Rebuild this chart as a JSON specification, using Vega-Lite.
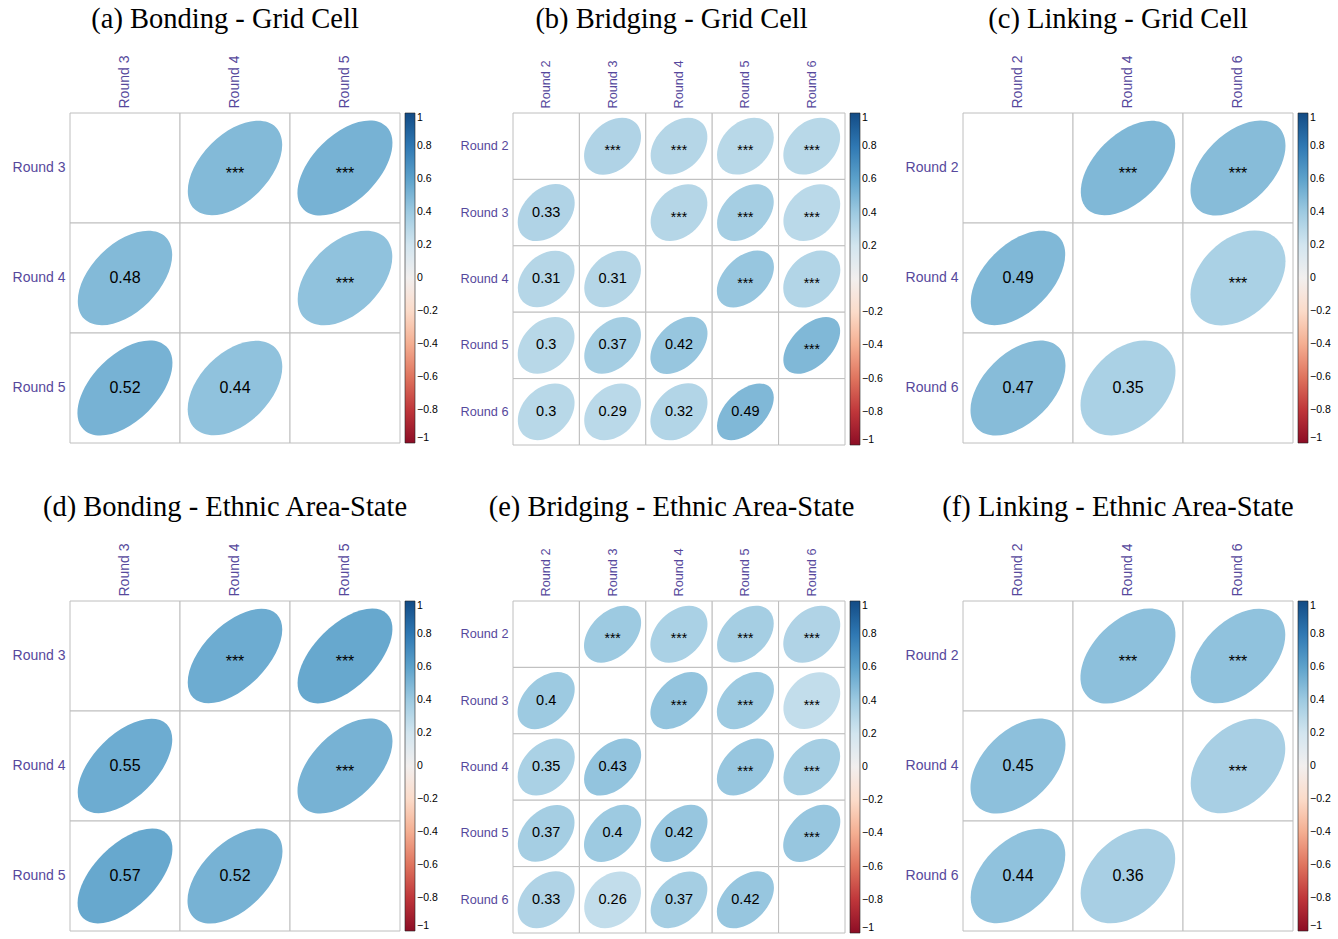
{
  "$schema": "https://vega.github.io/schema/vega-lite/v6.json",
  "background": "white",
  "padding": {"left": 12, "top": 4, "right": 0, "bottom": 0},
  "config": {
    "view": {"stroke": null},
    "font": "Liberation Sans",
    "title": {"font": "Liberation Serif", "fontSize": 28.5, "fontWeight": "normal", "color": "#000000", "anchor": "middle", "frame": "bounds"},
    "axis": {"domain": false, "ticks": false, "grid": false, "labelFont": "Liberation Sans", "labelColor": "#56489c", "labelPadding": 5, "title": null},
    "legend": {"gradientThickness": 10, "labelFont": "Liberation Sans", "labelFontSize": 10.5, "labelColor": "#000000", "labelOffset": 5, "offset": 5, "padding": 0, "gradientStrokeColor": "#222222", "gradientStrokeWidth": 0.6, "direction": "vertical", "orient": "right", "labelOverlap": false}
  },
  "spacing": 46,
  "resolve": {"scale": {"shape": "independent", "color": "independent"}, "legend": {"color": "independent", "shape": "independent"}},
  "vconcat": [
    {
      "spacing": 22,
      "resolve": {"scale": {"shape": "independent", "color": "independent"}, "legend": {"color": "independent", "shape": "independent"}},
      "hconcat": [
        {
          "title": {"text": "(a) Bonding - Grid Cell", "offset": 22},
          "width": 330, "height": 330,
          "data": {"values": [
            {"row": "Round 3", "col": "Round 3"},
            {"row": "Round 3", "col": "Round 4", "r": 0.48, "sig": "***"},
            {"row": "Round 3", "col": "Round 5", "r": 0.52, "sig": "***"},
            {"row": "Round 4", "col": "Round 3", "r": 0.48},
            {"row": "Round 4", "col": "Round 4"},
            {"row": "Round 4", "col": "Round 5", "r": 0.44, "sig": "***"},
            {"row": "Round 5", "col": "Round 3", "r": 0.52},
            {"row": "Round 5", "col": "Round 4", "r": 0.44},
            {"row": "Round 5", "col": "Round 5"}
          ]},
          "encoding": {
            "x": {"field": "col", "type": "nominal", "title": null, "scale": {"type": "band", "paddingInner": 0, "paddingOuter": 0}, "axis": {"orient": "top", "labelAngle": -90, "labelFontSize": 14}},
            "y": {"field": "row", "type": "nominal", "title": null, "scale": {"type": "band", "paddingInner": 0, "paddingOuter": 0}, "axis": {"labelFontSize": 14}}
          },
          "layer": [
            {"mark": {"type": "rect", "fill": "white", "stroke": "#bebebe", "strokeWidth": 1}},
            {
              "transform": [{"filter": "isValid(datum.r)"}],
              "mark": {"type": "point", "filled": true, "opacity": 1, "strokeWidth": 0, "size": 9025},
              "encoding": {
                "shape": {"field": "r", "type": "nominal", "legend": null, "scale": {
                  "domain": [0.44, 0.48, 0.52],
                  "range": [
                    "M -0.8485 0.8485 A 1.2 0.7483 -45 0 1 0.8485 -0.8485 A 1.2 0.7483 -45 0 1 -0.8485 0.8485 Z",
                    "M -0.8602 0.8602 A 1.2166 0.7211 -45 0 1 0.8602 -0.8602 A 1.2166 0.7211 -45 0 1 -0.8602 0.8602 Z",
                    "M -0.8718 0.8718 A 1.2329 0.6928 -45 0 1 0.8718 -0.8718 A 1.2329 0.6928 -45 0 1 -0.8718 0.8718 Z"
                  ]}},
                "color": {"field": "r", "type": "quantitative", "scale": {"domain": [-1, 1], "scheme": "redblue"}, "legend": {"type": "gradient", "title": null, "format": ".1~f", "gradientLength": 330, "values": [-1, -0.8, -0.6, -0.4, -0.2, 0, 0.2, 0.4, 0.6, 0.8, 1]}}
              }
            },
            {
              "transform": [{"filter": "isValid(datum.r) && !datum.sig"}],
              "mark": {"type": "text", "fontSize": 16, "color": "#000000"},
              "encoding": {"text": {"field": "r", "type": "quantitative", "format": ".2~f"}}
            },
            {
              "transform": [{"filter": "datum.sig"}],
              "mark": {"type": "text", "fontSize": 16, "dy": 6, "color": "#000000"},
              "encoding": {"text": {"field": "sig"}}
            }
          ]
        },
        {
          "title": {"text": "(b) Bridging - Grid Cell", "offset": 27},
          "width": 332, "height": 332,
          "data": {"values": [
            {"row": "Round 2", "col": "Round 2"},
            {"row": "Round 2", "col": "Round 3", "r": 0.33, "sig": "***"},
            {"row": "Round 2", "col": "Round 4", "r": 0.31, "sig": "***"},
            {"row": "Round 2", "col": "Round 5", "r": 0.3, "sig": "***"},
            {"row": "Round 2", "col": "Round 6", "r": 0.3, "sig": "***"},
            {"row": "Round 3", "col": "Round 2", "r": 0.33},
            {"row": "Round 3", "col": "Round 3"},
            {"row": "Round 3", "col": "Round 4", "r": 0.31, "sig": "***"},
            {"row": "Round 3", "col": "Round 5", "r": 0.37, "sig": "***"},
            {"row": "Round 3", "col": "Round 6", "r": 0.29, "sig": "***"},
            {"row": "Round 4", "col": "Round 2", "r": 0.31},
            {"row": "Round 4", "col": "Round 3", "r": 0.31},
            {"row": "Round 4", "col": "Round 4"},
            {"row": "Round 4", "col": "Round 5", "r": 0.42, "sig": "***"},
            {"row": "Round 4", "col": "Round 6", "r": 0.32, "sig": "***"},
            {"row": "Round 5", "col": "Round 2", "r": 0.3},
            {"row": "Round 5", "col": "Round 3", "r": 0.37},
            {"row": "Round 5", "col": "Round 4", "r": 0.42},
            {"row": "Round 5", "col": "Round 5"},
            {"row": "Round 5", "col": "Round 6", "r": 0.49, "sig": "***"},
            {"row": "Round 6", "col": "Round 2", "r": 0.3},
            {"row": "Round 6", "col": "Round 3", "r": 0.29},
            {"row": "Round 6", "col": "Round 4", "r": 0.32},
            {"row": "Round 6", "col": "Round 5", "r": 0.49},
            {"row": "Round 6", "col": "Round 6"}
          ]},
          "encoding": {
            "x": {"field": "col", "type": "nominal", "title": null, "scale": {"type": "band", "paddingInner": 0, "paddingOuter": 0}, "axis": {"orient": "top", "labelAngle": -90, "labelFontSize": 12.7}},
            "y": {"field": "row", "type": "nominal", "title": null, "scale": {"type": "band", "paddingInner": 0, "paddingOuter": 0}, "axis": {"labelFontSize": 12.7}}
          },
          "layer": [
            {"mark": {"type": "rect", "fill": "white", "stroke": "#bebebe", "strokeWidth": 1}},
            {
              "transform": [{"filter": "isValid(datum.r)"}],
              "mark": {"type": "point", "filled": true, "opacity": 1, "strokeWidth": 0, "size": 3260},
              "encoding": {
                "shape": {"field": "r", "type": "nominal", "legend": null, "scale": {
                  "domain": [0.29, 0.3, 0.31, 0.32, 0.33, 0.37, 0.42, 0.49],
                  "range": [
                    "M -0.8031 0.8031 A 1.1358 0.8426 -45 0 1 0.8031 -0.8031 A 1.1358 0.8426 -45 0 1 -0.8031 0.8031 Z",
                    "M -0.8062 0.8062 A 1.1402 0.8367 -45 0 1 0.8062 -0.8062 A 1.1402 0.8367 -45 0 1 -0.8062 0.8062 Z",
                    "M -0.8093 0.8093 A 1.1446 0.8307 -45 0 1 0.8093 -0.8093 A 1.1446 0.8307 -45 0 1 -0.8093 0.8093 Z",
                    "M -0.8124 0.8124 A 1.1489 0.8246 -45 0 1 0.8124 -0.8124 A 1.1489 0.8246 -45 0 1 -0.8124 0.8124 Z",
                    "M -0.8155 0.8155 A 1.1533 0.8185 -45 0 1 0.8155 -0.8155 A 1.1533 0.8185 -45 0 1 -0.8155 0.8155 Z",
                    "M -0.8276 0.8276 A 1.1705 0.7937 -45 0 1 0.8276 -0.8276 A 1.1705 0.7937 -45 0 1 -0.8276 0.8276 Z",
                    "M -0.8426 0.8426 A 1.1916 0.7616 -45 0 1 0.8426 -0.8426 A 1.1916 0.7616 -45 0 1 -0.8426 0.8426 Z",
                    "M -0.8631 0.8631 A 1.2207 0.7141 -45 0 1 0.8631 -0.8631 A 1.2207 0.7141 -45 0 1 -0.8631 0.8631 Z"
                  ]}},
                "color": {"field": "r", "type": "quantitative", "scale": {"domain": [-1, 1], "scheme": "redblue"}, "legend": {"type": "gradient", "title": null, "format": ".1~f", "gradientLength": 332, "values": [-1, -0.8, -0.6, -0.4, -0.2, 0, 0.2, 0.4, 0.6, 0.8, 1]}}
              }
            },
            {
              "transform": [{"filter": "isValid(datum.r) && !datum.sig"}],
              "mark": {"type": "text", "fontSize": 14.5, "color": "#000000"},
              "encoding": {"text": {"field": "r", "type": "quantitative", "format": ".2~f"}}
            },
            {
              "transform": [{"filter": "datum.sig"}],
              "mark": {"type": "text", "fontSize": 14, "dy": 5, "color": "#000000"},
              "encoding": {"text": {"field": "sig"}}
            }
          ]
        },
        {
          "title": {"text": "(c) Linking - Grid Cell", "offset": 22},
          "width": 330, "height": 330,
          "data": {"values": [
            {"row": "Round 2", "col": "Round 2"},
            {"row": "Round 2", "col": "Round 4", "r": 0.49, "sig": "***"},
            {"row": "Round 2", "col": "Round 6", "r": 0.47, "sig": "***"},
            {"row": "Round 4", "col": "Round 2", "r": 0.49},
            {"row": "Round 4", "col": "Round 4"},
            {"row": "Round 4", "col": "Round 6", "r": 0.35, "sig": "***"},
            {"row": "Round 6", "col": "Round 2", "r": 0.47},
            {"row": "Round 6", "col": "Round 4", "r": 0.35},
            {"row": "Round 6", "col": "Round 6"}
          ]},
          "encoding": {
            "x": {"field": "col", "type": "nominal", "title": null, "scale": {"type": "band", "paddingInner": 0, "paddingOuter": 0}, "axis": {"orient": "top", "labelAngle": -90, "labelFontSize": 14}},
            "y": {"field": "row", "type": "nominal", "title": null, "scale": {"type": "band", "paddingInner": 0, "paddingOuter": 0}, "axis": {"labelFontSize": 14}}
          },
          "layer": [
            {"mark": {"type": "rect", "fill": "white", "stroke": "#bebebe", "strokeWidth": 1}},
            {
              "transform": [{"filter": "isValid(datum.r)"}],
              "mark": {"type": "point", "filled": true, "opacity": 1, "strokeWidth": 0, "size": 9025},
              "encoding": {
                "shape": {"field": "r", "type": "nominal", "legend": null, "scale": {
                  "domain": [0.35, 0.47, 0.49],
                  "range": [
                    "M -0.8216 0.8216 A 1.1619 0.8062 -45 0 1 0.8216 -0.8216 A 1.1619 0.8062 -45 0 1 -0.8216 0.8216 Z",
                    "M -0.8573 0.8573 A 1.2124 0.728 -45 0 1 0.8573 -0.8573 A 1.2124 0.728 -45 0 1 -0.8573 0.8573 Z",
                    "M -0.8631 0.8631 A 1.2207 0.7141 -45 0 1 0.8631 -0.8631 A 1.2207 0.7141 -45 0 1 -0.8631 0.8631 Z"
                  ]}},
                "color": {"field": "r", "type": "quantitative", "scale": {"domain": [-1, 1], "scheme": "redblue"}, "legend": {"type": "gradient", "title": null, "format": ".1~f", "gradientLength": 330, "values": [-1, -0.8, -0.6, -0.4, -0.2, 0, 0.2, 0.4, 0.6, 0.8, 1]}}
              }
            },
            {
              "transform": [{"filter": "isValid(datum.r) && !datum.sig"}],
              "mark": {"type": "text", "fontSize": 16, "color": "#000000"},
              "encoding": {"text": {"field": "r", "type": "quantitative", "format": ".2~f"}}
            },
            {
              "transform": [{"filter": "datum.sig"}],
              "mark": {"type": "text", "fontSize": 16, "dy": 6, "color": "#000000"},
              "encoding": {"text": {"field": "sig"}}
            }
          ]
        }
      ]
    },
    {
      "spacing": 22,
      "resolve": {"scale": {"shape": "independent", "color": "independent"}, "legend": {"color": "independent", "shape": "independent"}},
      "hconcat": [
        {
          "title": {"text": "(d) Bonding - Ethnic Area-State", "offset": 22},
          "width": 330, "height": 330,
          "data": {"values": [
            {"row": "Round 3", "col": "Round 3"},
            {"row": "Round 3", "col": "Round 4", "r": 0.55, "sig": "***"},
            {"row": "Round 3", "col": "Round 5", "r": 0.57, "sig": "***"},
            {"row": "Round 4", "col": "Round 3", "r": 0.55},
            {"row": "Round 4", "col": "Round 4"},
            {"row": "Round 4", "col": "Round 5", "r": 0.52, "sig": "***"},
            {"row": "Round 5", "col": "Round 3", "r": 0.57},
            {"row": "Round 5", "col": "Round 4", "r": 0.52},
            {"row": "Round 5", "col": "Round 5"}
          ]},
          "encoding": {
            "x": {"field": "col", "type": "nominal", "title": null, "scale": {"type": "band", "paddingInner": 0, "paddingOuter": 0}, "axis": {"orient": "top", "labelAngle": -90, "labelFontSize": 14}},
            "y": {"field": "row", "type": "nominal", "title": null, "scale": {"type": "band", "paddingInner": 0, "paddingOuter": 0}, "axis": {"labelFontSize": 14}}
          },
          "layer": [
            {"mark": {"type": "rect", "fill": "white", "stroke": "#bebebe", "strokeWidth": 1}},
            {
              "transform": [{"filter": "isValid(datum.r)"}],
              "mark": {"type": "point", "filled": true, "opacity": 1, "strokeWidth": 0, "size": 9025},
              "encoding": {
                "shape": {"field": "r", "type": "nominal", "legend": null, "scale": {
                  "domain": [0.52, 0.55, 0.57],
                  "range": [
                    "M -0.8718 0.8718 A 1.2329 0.6928 -45 0 1 0.8718 -0.8718 A 1.2329 0.6928 -45 0 1 -0.8718 0.8718 Z",
                    "M -0.8803 0.8803 A 1.245 0.6708 -45 0 1 0.8803 -0.8803 A 1.245 0.6708 -45 0 1 -0.8803 0.8803 Z",
                    "M -0.886 0.886 A 1.253 0.6557 -45 0 1 0.886 -0.886 A 1.253 0.6557 -45 0 1 -0.886 0.886 Z"
                  ]}},
                "color": {"field": "r", "type": "quantitative", "scale": {"domain": [-1, 1], "scheme": "redblue"}, "legend": {"type": "gradient", "title": null, "format": ".1~f", "gradientLength": 330, "values": [-1, -0.8, -0.6, -0.4, -0.2, 0, 0.2, 0.4, 0.6, 0.8, 1]}}
              }
            },
            {
              "transform": [{"filter": "isValid(datum.r) && !datum.sig"}],
              "mark": {"type": "text", "fontSize": 16, "color": "#000000"},
              "encoding": {"text": {"field": "r", "type": "quantitative", "format": ".2~f"}}
            },
            {
              "transform": [{"filter": "datum.sig"}],
              "mark": {"type": "text", "fontSize": 16, "dy": 6, "color": "#000000"},
              "encoding": {"text": {"field": "sig"}}
            }
          ]
        },
        {
          "title": {"text": "(e) Bridging - Ethnic Area-State", "offset": 27},
          "width": 332, "height": 332,
          "data": {"values": [
            {"row": "Round 2", "col": "Round 2"},
            {"row": "Round 2", "col": "Round 3", "r": 0.4, "sig": "***"},
            {"row": "Round 2", "col": "Round 4", "r": 0.35, "sig": "***"},
            {"row": "Round 2", "col": "Round 5", "r": 0.37, "sig": "***"},
            {"row": "Round 2", "col": "Round 6", "r": 0.33, "sig": "***"},
            {"row": "Round 3", "col": "Round 2", "r": 0.4},
            {"row": "Round 3", "col": "Round 3"},
            {"row": "Round 3", "col": "Round 4", "r": 0.43, "sig": "***"},
            {"row": "Round 3", "col": "Round 5", "r": 0.4, "sig": "***"},
            {"row": "Round 3", "col": "Round 6", "r": 0.26, "sig": "***"},
            {"row": "Round 4", "col": "Round 2", "r": 0.35},
            {"row": "Round 4", "col": "Round 3", "r": 0.43},
            {"row": "Round 4", "col": "Round 4"},
            {"row": "Round 4", "col": "Round 5", "r": 0.42, "sig": "***"},
            {"row": "Round 4", "col": "Round 6", "r": 0.37, "sig": "***"},
            {"row": "Round 5", "col": "Round 2", "r": 0.37},
            {"row": "Round 5", "col": "Round 3", "r": 0.4},
            {"row": "Round 5", "col": "Round 4", "r": 0.42},
            {"row": "Round 5", "col": "Round 5"},
            {"row": "Round 5", "col": "Round 6", "r": 0.42, "sig": "***"},
            {"row": "Round 6", "col": "Round 2", "r": 0.33},
            {"row": "Round 6", "col": "Round 3", "r": 0.26},
            {"row": "Round 6", "col": "Round 4", "r": 0.37},
            {"row": "Round 6", "col": "Round 5", "r": 0.42},
            {"row": "Round 6", "col": "Round 6"}
          ]},
          "encoding": {
            "x": {"field": "col", "type": "nominal", "title": null, "scale": {"type": "band", "paddingInner": 0, "paddingOuter": 0}, "axis": {"orient": "top", "labelAngle": -90, "labelFontSize": 12.7}},
            "y": {"field": "row", "type": "nominal", "title": null, "scale": {"type": "band", "paddingInner": 0, "paddingOuter": 0}, "axis": {"labelFontSize": 12.7}}
          },
          "layer": [
            {"mark": {"type": "rect", "fill": "white", "stroke": "#bebebe", "strokeWidth": 1}},
            {
              "transform": [{"filter": "isValid(datum.r)"}],
              "mark": {"type": "point", "filled": true, "opacity": 1, "strokeWidth": 0, "size": 3260},
              "encoding": {
                "shape": {"field": "r", "type": "nominal", "legend": null, "scale": {
                  "domain": [0.26, 0.33, 0.35, 0.37, 0.4, 0.42, 0.43],
                  "range": [
                    "M -0.7937 0.7937 A 1.1225 0.8602 -45 0 1 0.7937 -0.7937 A 1.1225 0.8602 -45 0 1 -0.7937 0.7937 Z",
                    "M -0.8155 0.8155 A 1.1533 0.8185 -45 0 1 0.8155 -0.8155 A 1.1533 0.8185 -45 0 1 -0.8155 0.8155 Z",
                    "M -0.8216 0.8216 A 1.1619 0.8062 -45 0 1 0.8216 -0.8216 A 1.1619 0.8062 -45 0 1 -0.8216 0.8216 Z",
                    "M -0.8276 0.8276 A 1.1705 0.7937 -45 0 1 0.8276 -0.8276 A 1.1705 0.7937 -45 0 1 -0.8276 0.8276 Z",
                    "M -0.8367 0.8367 A 1.1832 0.7746 -45 0 1 0.8367 -0.8367 A 1.1832 0.7746 -45 0 1 -0.8367 0.8367 Z",
                    "M -0.8426 0.8426 A 1.1916 0.7616 -45 0 1 0.8426 -0.8426 A 1.1916 0.7616 -45 0 1 -0.8426 0.8426 Z",
                    "M -0.8456 0.8456 A 1.1958 0.755 -45 0 1 0.8456 -0.8456 A 1.1958 0.755 -45 0 1 -0.8456 0.8456 Z"
                  ]}},
                "color": {"field": "r", "type": "quantitative", "scale": {"domain": [-1, 1], "scheme": "redblue"}, "legend": {"type": "gradient", "title": null, "format": ".1~f", "gradientLength": 332, "values": [-1, -0.8, -0.6, -0.4, -0.2, 0, 0.2, 0.4, 0.6, 0.8, 1]}}
              }
            },
            {
              "transform": [{"filter": "isValid(datum.r) && !datum.sig"}],
              "mark": {"type": "text", "fontSize": 14.5, "color": "#000000"},
              "encoding": {"text": {"field": "r", "type": "quantitative", "format": ".2~f"}}
            },
            {
              "transform": [{"filter": "datum.sig"}],
              "mark": {"type": "text", "fontSize": 14, "dy": 5, "color": "#000000"},
              "encoding": {"text": {"field": "sig"}}
            }
          ]
        },
        {
          "title": {"text": "(f) Linking - Ethnic Area-State", "offset": 22},
          "width": 330, "height": 330,
          "data": {"values": [
            {"row": "Round 2", "col": "Round 2"},
            {"row": "Round 2", "col": "Round 4", "r": 0.45, "sig": "***"},
            {"row": "Round 2", "col": "Round 6", "r": 0.44, "sig": "***"},
            {"row": "Round 4", "col": "Round 2", "r": 0.45},
            {"row": "Round 4", "col": "Round 4"},
            {"row": "Round 4", "col": "Round 6", "r": 0.36, "sig": "***"},
            {"row": "Round 6", "col": "Round 2", "r": 0.44},
            {"row": "Round 6", "col": "Round 4", "r": 0.36},
            {"row": "Round 6", "col": "Round 6"}
          ]},
          "encoding": {
            "x": {"field": "col", "type": "nominal", "title": null, "scale": {"type": "band", "paddingInner": 0, "paddingOuter": 0}, "axis": {"orient": "top", "labelAngle": -90, "labelFontSize": 14}},
            "y": {"field": "row", "type": "nominal", "title": null, "scale": {"type": "band", "paddingInner": 0, "paddingOuter": 0}, "axis": {"labelFontSize": 14}}
          },
          "layer": [
            {"mark": {"type": "rect", "fill": "white", "stroke": "#bebebe", "strokeWidth": 1}},
            {
              "transform": [{"filter": "isValid(datum.r)"}],
              "mark": {"type": "point", "filled": true, "opacity": 1, "strokeWidth": 0, "size": 9025},
              "encoding": {
                "shape": {"field": "r", "type": "nominal", "legend": null, "scale": {
                  "domain": [0.36, 0.44, 0.45],
                  "range": [
                    "M -0.8246 0.8246 A 1.1662 0.8 -45 0 1 0.8246 -0.8246 A 1.1662 0.8 -45 0 1 -0.8246 0.8246 Z",
                    "M -0.8485 0.8485 A 1.2 0.7483 -45 0 1 0.8485 -0.8485 A 1.2 0.7483 -45 0 1 -0.8485 0.8485 Z",
                    "M -0.8515 0.8515 A 1.2042 0.7416 -45 0 1 0.8515 -0.8515 A 1.2042 0.7416 -45 0 1 -0.8515 0.8515 Z"
                  ]}},
                "color": {"field": "r", "type": "quantitative", "scale": {"domain": [-1, 1], "scheme": "redblue"}, "legend": {"type": "gradient", "title": null, "format": ".1~f", "gradientLength": 330, "values": [-1, -0.8, -0.6, -0.4, -0.2, 0, 0.2, 0.4, 0.6, 0.8, 1]}}
              }
            },
            {
              "transform": [{"filter": "isValid(datum.r) && !datum.sig"}],
              "mark": {"type": "text", "fontSize": 16, "color": "#000000"},
              "encoding": {"text": {"field": "r", "type": "quantitative", "format": ".2~f"}}
            },
            {
              "transform": [{"filter": "datum.sig"}],
              "mark": {"type": "text", "fontSize": 16, "dy": 6, "color": "#000000"},
              "encoding": {"text": {"field": "sig"}}
            }
          ]
        }
      ]
    }
  ]
}
